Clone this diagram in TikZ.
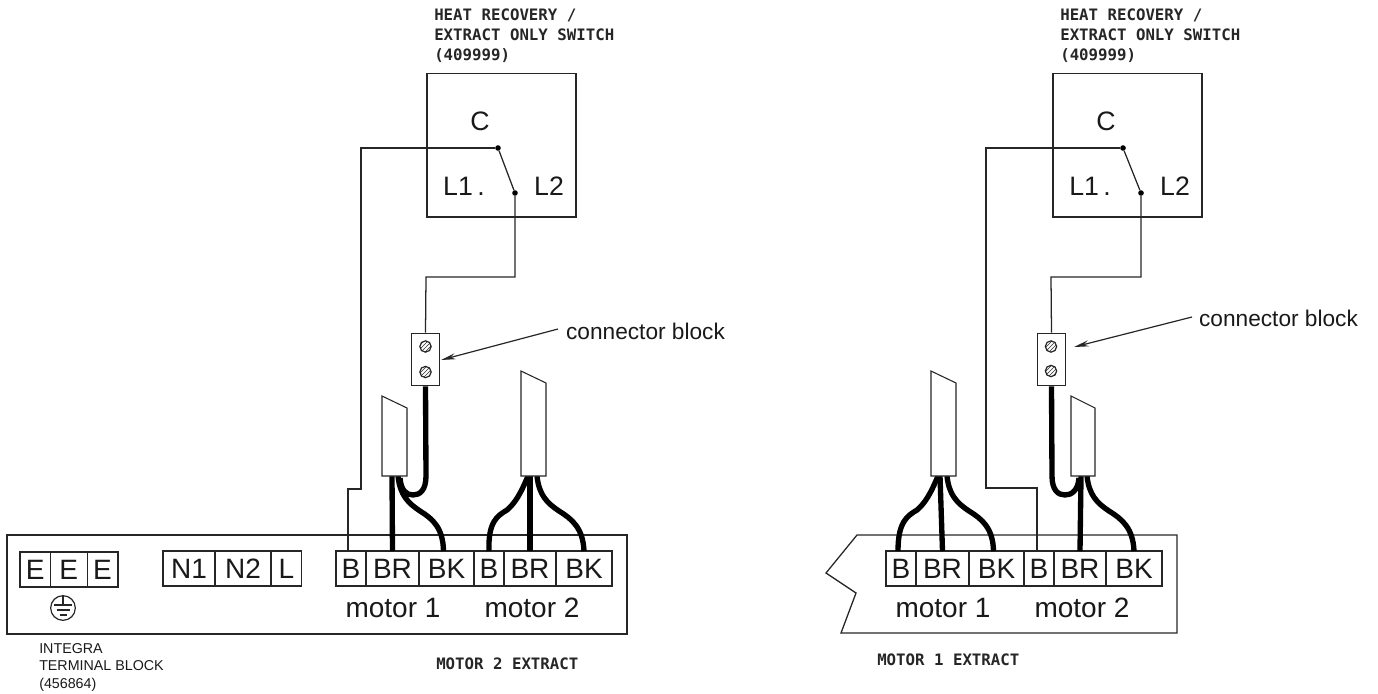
\documentclass[tikz,border=0pt]{standalone}
\usepackage{fontspec}
\setmainfont{Liberation Sans}
\newfontfamily\cadfont{DejaVu Sans Mono}
\usetikzlibrary{positioning,patterns,arrows.meta}
\tikzset{
    wire/.style = {draw=black!85, line width=0.95pt},
    cable/.style = {draw=black, line width=4pt},
    cell/.style = {draw=black!85, line width=0.8pt, minimum height=26.25pt, inner sep=0pt, outer sep=0pt, font=\fontsize{21}{21}\selectfont, text=black!90},
    sheath/.style = {draw=black!85, line width=0.8pt, fill=white},
    label/.style = {inner sep=0pt, text=black!90, font=\fontsize{20}{20}\selectfont},
    motorlabel/.style = {inner sep=0pt, text=black!90, font=\fontsize{21}{21}\selectfont},
    caption/.style = {inner sep=0pt, anchor=north west, align=left, text=black!85, font=\cadfont\bfseries\fontsize{11.8}{14.8}\selectfont},
    block/.style = {draw=black!85, line width=0.9pt, fill=white, inner sep=0pt, minimum width=21.5pt, minimum height=39.5pt},
    screw/.style = {draw=black!85, line width=0.9pt, circle, inner sep=0pt, minimum size=8.5pt, pattern=north east lines, pattern color=black!80},
    dot/.style = {circle, fill=black, inner sep=0pt, minimum size=4.2pt},
    pointer/.style = {wire, line width=0.9pt, -{Stealth[length=11pt,width=4.5pt]}},
}
\begin{document}
\begin{tikzpicture}[x=0.75pt, y=-0.75pt, node distance = 0pt]%
    \useasboundingbox (0,0) rectangle (1378,693);
    % left panel
    \node (leftbox) [draw=black!85, line width=0.95pt, minimum width=465pt, minimum height=74.25pt, inner sep=0pt] at (317,584.5) {};
    \node (e1) [cell, minimum width=22.9pt] at (35.25,569.5) {E};
    \node (e2) [cell, minimum width=27.4pt, right=of e1] {E};
    \node (e3) [cell, minimum width=23.2pt, right=of e2] {E};
    \node (n1) [cell, minimum width=39pt] at (189,568.5) {N1};
    \node (n2) [cell, minimum width=42pt, right=of n1] {N2};
    \node (ll) [cell, minimum width=23.2pt, right=of n2] {L};
    \node (b1) [cell, minimum width=22.5pt] at (351,568.5) {B};
    \node (r1) [cell, minimum width=39.75pt, right=of b1] {BR};
    \node (k1) [cell, minimum width=41.25pt, right=of r1] {BK};
    \node (b2) [cell, minimum width=22.5pt, right=of k1] {B};
    \node (r2) [cell, minimum width=39pt, right=of b2] {BR};
    \node (k2) [cell, minimum width=42pt, right=of r2] {BK};
    \node (m1) [motorlabel] at (393,608) {motor 1};
    \node (m2) [motorlabel] at (532,608) {motor 2};
    % earth symbol
    \node (earth) [draw=black!85, line width=0.9pt, circle, minimum size=18.5pt, inner sep=0pt] at (63,608) {};
    \draw[wire, line width=0.8pt] (earth.north) -- (63,605);
    \draw[wire, line width=0.8pt] (54,605) -- (72,605);
    \draw[wire, line width=0.8pt] (56.5,610) -- (69.5,610);
    \draw[wire, line width=0.8pt] (59.5,615) -- (66.5,615);
    % switch
    \node (sw) [draw=black!85, line width=0.9pt, minimum width=111.75pt, minimum height=107.5pt, inner sep=0pt] at (501.5,145.25) {};
    \node (c) [label] at (480,121) {C};
    \node (l1) [label] at (464,186) {L1\,.};
    \node (l2) [label] at (549,186) {L2};
    \node (cd) [dot] at (498,148) {};
    \node (ld) [dot] at (515,193) {};
    \node (head) [caption] at (434,9) {HEAT RECOVERY /\\EXTRACT ONLY SWITCH\\(409999)};
    % connector block
    \node (cb) [block] at (425.5,359.5) {};
    \node (s1) [screw] at (425.5,346.5) {};
    \node (s2) [screw] at (425.5,372) {};
    \node (cl) [label, font=\fontsize{17}{17}\selectfont] at (645.5,331) {connector block};
    \coordinate (bend1) at (361,148);
    \coordinate (bend2) at (361,489);
    \coordinate (bend3) at (348,489);
    \coordinate (bend4) at (515,277);
    \coordinate (bend5) at (426,277);
    \coordinate (tail1) at (558,329);
    \coordinate (tip1) at (441,360);
    \draw[wire] (cd) -- (bend1) -- (bend2) -- (bend3) -- ([xshift=-2.25pt]b1.north);
    \draw[wire] (cd) -- (ld) -- (bend4) -- (bend5) -- (cb.north);
    \draw[pointer] (tail1) -- (tip1);
    % motor cables
    \coordinate (a1) at (392,476);
    \coordinate (a2) at (398,476);
    \coordinate (a3) at (528,476);
    \coordinate (a4) at (530,476);
    \coordinate (a5) at (537,476);
    \draw[cable] (a1) -- (r1.north);
    \draw[cable] (a2) .. controls (400,495) and (408,503) .. (420,511) .. controls (433,519) and (443,528) .. ([xshift=-2.25pt]k1.north);
    \draw[cable] (cb.south) -- (426,476) .. controls (426,490) and (420,495) .. (413,495) .. controls (406,495) and (401,490) .. (400,478);
    \draw[cable] (a3) .. controls (520,495) and (515,503) .. (507,510) .. controls (497,516) and (488,522) .. (b2.north);
    \draw[cable] (a4) -- (r2.north);
    \draw[cable] (a5) .. controls (539,495) and (547,503) .. (559,511) .. controls (572,519) and (583,528) .. (k2.north);
    \draw[sheath] (382,396) -- (407,408) -- (407,476) -- (382,476) -- cycle;
    \draw[sheath] (521,371) -- (546,383) -- (546,476) -- (521,476) -- cycle;
    \node (c1) [caption, font=\fontsize{10.7}{13.3}\selectfont, text=black!90] at (39,643) {INTEGRA\\TERMINAL BLOCK\\(456864)};
    \node (c2) [caption] at (436,658) {MOTOR 2 EXTRACT};
    % right panel
    \node (rightbox) [inner sep=0pt] at (857,535) {};
    \coordinate (rp1) at (1177,535);
    \coordinate (rp2) at (1177,633);
    \coordinate (rp3) at (841,633);
    \coordinate (rp4) at (856,593);
    \coordinate (rp5) at (826,573);
    \draw[wire] (rightbox.center) -- (rp1) -- (rp2) -- (rp3) -- (rp4) -- (rp5) -- cycle;
    \node (b3) [cell, minimum width=22.5pt] at (901,568.5) {B};
    \node (r3) [cell, minimum width=39.75pt, right=of b3] {BR};
    \node (k3) [cell, minimum width=41.25pt, right=of r3] {BK};
    \node (b4) [cell, minimum width=22.5pt, right=of k3] {B};
    \node (r4) [cell, minimum width=39pt, right=of b4] {BR};
    \node (k4) [cell, minimum width=42pt, right=of r4] {BK};
    \node (m3) [motorlabel] at (943,608) {motor 1};
    \node (m4) [motorlabel] at (1082,608) {motor 2};
    \node (sw2) [draw=black!85, line width=0.9pt, minimum width=111.75pt, minimum height=107.5pt, inner sep=0pt] at (1127.5,145.25) {};
    \node (c3) [label] at (1106,121) {C};
    \node (l3) [label] at (1090,186) {L1\,.};
    \node (l4) [label] at (1175,186) {L2};
    \node (cd2) [dot] at (1123,148) {};
    \node (ld2) [dot] at (1141,193) {};
    \node (head2) [caption] at (1060,9) {HEAT RECOVERY /\\EXTRACT ONLY SWITCH\\(409999)};
    \node (cb2) [block] at (1051.5,359.5) {};
    \node (s3) [screw] at (1051,346.5) {};
    \node (s4) [screw] at (1051,371) {};
    \node (cl2) [label, font=\fontsize{17}{17}\selectfont] at (1278.5,318) {connector block};
    \coordinate (bend6) at (986,148);
    \coordinate (bend7) at (986,488);
    \coordinate (bend8) at (1037,488);
    \coordinate (bend9) at (1141,277);
    \coordinate (bend10) at (1051,277);
    \coordinate (tail2) at (1192,317);
    \coordinate (tip2) at (1074,347);
    \draw[wire] (cd2) -- (bend6) -- (bend7) -- (bend8) -- ([xshift=-1.5pt]b4.north);
    \draw[wire] (cd2) -- (ld2) -- (bend9) -- (bend10) -- (cb2.north);
    \draw[pointer] (tail2) -- (tip2);
    \coordinate (a6) at (938,476);
    \coordinate (a7) at (940,476);
    \coordinate (a8) at (947,476);
    \coordinate (a9) at (1081,476);
    \coordinate (a10) at (1087,476);
    \draw[cable] (a6) .. controls (930,495) and (925,503) .. (917,510) .. controls (907,516) and (898,522) .. ([xshift=-2.25pt]b3.north);
    \draw[cable] (a7) -- (r3.north);
    \draw[cable] (a8) .. controls (949,495) and (957,503) .. (969,511) .. controls (982,519) and (993,528) .. ([xshift=-2.25pt]k3.north);
    \draw[cable] (a9) -- (r4.north);
    \draw[cable] (a10) .. controls (1089,495) and (1097,503) .. (1109,511) .. controls (1122,519) and (1133,528) .. (k4.north);
    \draw[cable] (cb2.south) -- (1052,476) .. controls (1052,490) and (1058,495) .. (1065,495) .. controls (1072,495) and (1078,490) .. (1079,478);
    \draw[sheath] (931,371) -- (956,383) -- (956,476) -- (931,476) -- cycle;
    \draw[sheath] (1071,396) -- (1095,408) -- (1095,476) -- (1071,476) -- cycle;
    \node (c4) [caption] at (877,654) {MOTOR 1 EXTRACT};
\end{tikzpicture}
\end{document}
